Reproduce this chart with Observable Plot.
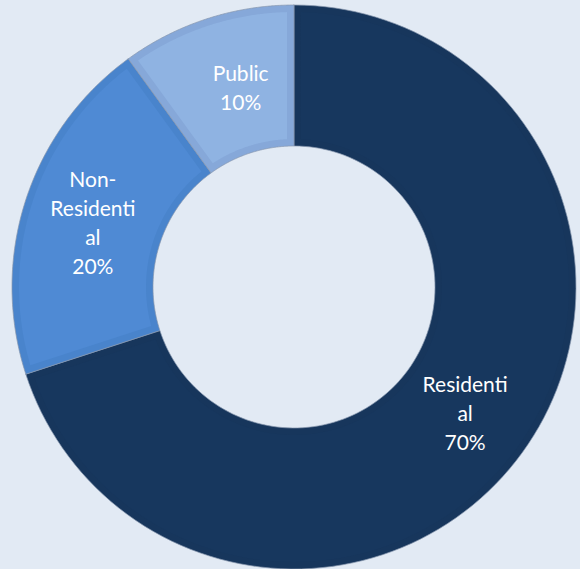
<!DOCTYPE html>
<html>
<head>
<meta charset="utf-8">
<script src="https://cdn.jsdelivr.net/npm/d3@7"></script>
<script src="https://cdn.jsdelivr.net/npm/@observablehq/plot@0.6"></script>
<style>
  html, body { margin: 0; padding: 0; background: #e2eaf4; }
  #chart svg { display: block; }
</style>
</head>
<body>
<div id="chart"></div>
<script>
// ---- data ----
const categories = ["Residential", "Non-Residential", "Public"];
const shares = [70, 20, 10];
const labelLines = ["Residenti\nal", "Non-\nResidenti\nal", "Public"];
const fills = ["#17375e", "#4f8ad4", "#8fb3e2"];
const edges = ["#17365c", "#4984cc", "#86a8d9"];

// ---- layout ----
const W = 580, H = 569;
const cx = 293.5, cy = 286.5, R = 282;
const inner = 0.5;          // inner radius as fraction of outer
const bevel = 7 / R;        // inset band in unit radius

const total = d3.sum(shares);
const slices = [];
let acc = 0;
categories.forEach((c, i) => {
  const a0 = acc / total * 2 * Math.PI;
  acc += shares[i];
  const a1 = acc / total * 2 * Math.PI;
  slices.push({category: c, value: shares[i], label: labelLines[i] + "\n" + shares[i] + "%", a0, a1, i});
});

function ring(s, rIn, rOut, inset, key) {
  const pts = [];
  const n = 120;
  const seg = (r, forward) => {
    const d = inset / r;
    const b0 = s.a0 + d, b1 = s.a1 - d;
    for (let k = 0; k <= n; k++) {
      const t = forward ? k / n : 1 - k / n;
      const a = b0 + (b1 - b0) * t;
      pts.push({key, category: s.category, x: r * Math.sin(a), y: r * Math.cos(a)});
    }
  };
  seg(rOut, true);
  seg(rIn, false);
  pts.push({...pts[0]});
  return pts;
}

const basePts = slices.flatMap(s => ring(s, inner, 1, 0, s.category));
const topPts = slices.flatMap(s => ring(s, inner + bevel, 1 - bevel, bevel, s.category));

const labelPts = slices.map(s => {
  const m = (s.a0 + s.a1) / 2, r = (1 + inner) / 2;
  return {...s, x: r * Math.sin(m), y: r * Math.cos(m)};
});

const chart = Plot.plot({
  width: W, height: H,
  margin: 0,
  style: {background: "#e2eaf4"},
  x: {domain: [-1, 1], range: [cx - R, cx + R], axis: null},
  y: {domain: [-1, 1], range: [cy + R, cy - R], axis: null},
  color: {domain: categories, range: edges},
  marks: [
    Plot.line(basePts, {x: "x", y: "y", z: "key", fill: "category", stroke: "#8797ad", strokeWidth: 0.7, curve: "linear"}),
    Plot.line(topPts, {x: "x", y: "y", z: "key", fill: d => fills[categories.indexOf(d.category)], stroke: "none", curve: "linear"}),
    Plot.text(labelPts.filter(d => d.category !== "Public"), {
      x: "x", y: "y", text: "label", fill: "white",
      fontSize: 21, fontWeight: 400, fontFamily: "Lato, 'Open Sans', sans-serif", lineHeight: 1.38
    }),
    Plot.text(labelPts.filter(d => d.category === "Public"), {
      x: "x", y: "y", text: "label", fill: "white", dx: 12,
      fontSize: 21, fontWeight: 400, fontFamily: "Lato, 'Open Sans', sans-serif", lineHeight: 1.38
    })
  ]
});
document.getElementById("chart").appendChild(chart);
</script>
</body>
</html>
